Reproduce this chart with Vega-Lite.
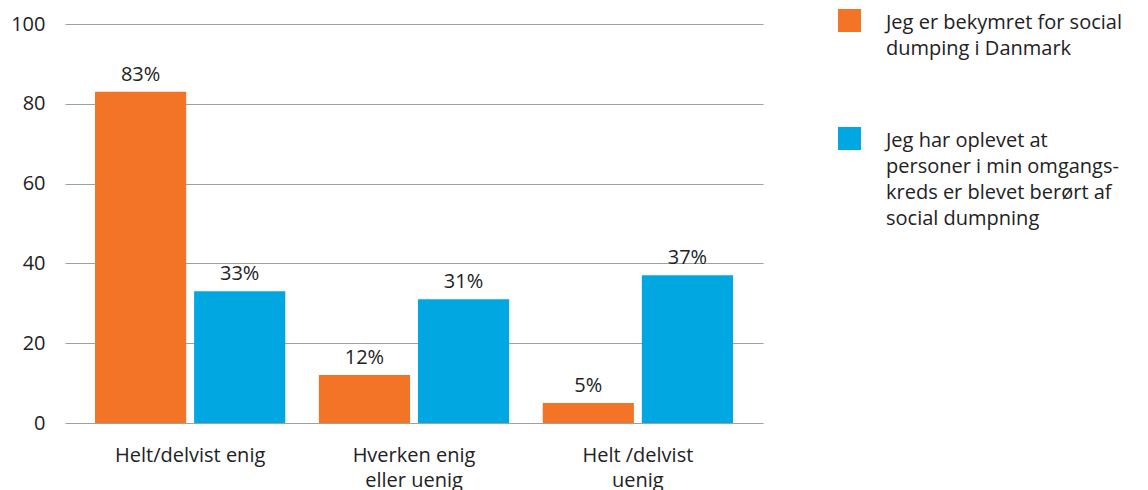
{
  "$schema": "https://vega.github.io/schema/vega-lite/v6.json",
  "width": 698,
  "height": 399,
  "autosize": {"type": "none"},
  "padding": {"left": 65, "top": 24, "right": 385, "bottom": 67},
  "background": "white",
  "config": {
    "font": "Open Sans",
    "view": {"stroke": null},
    "axis": {"labelFont": "Open Sans", "labelColor": "#222222", "labelFontSize": 20}
  },
  "data": {
    "values": [
      {"kategori": "Helt/delvist enig", "serie": "Jeg er bekymret for social|dumping i Danmark", "value": 83, "label": "83%"},
      {"kategori": "Helt/delvist enig", "serie": "Jeg har oplevet at|personer i min omgangs-|kreds er blevet berørt af|social dumpning", "value": 33, "label": "33%"},
      {"kategori": "Hverken enig|eller uenig", "serie": "Jeg er bekymret for social|dumping i Danmark", "value": 12, "label": "12%"},
      {"kategori": "Hverken enig|eller uenig", "serie": "Jeg har oplevet at|personer i min omgangs-|kreds er blevet berørt af|social dumpning", "value": 31, "label": "31%"},
      {"kategori": "Helt /delvist|uenig", "serie": "Jeg er bekymret for social|dumping i Danmark", "value": 5, "label": "5%"},
      {"kategori": "Helt /delvist|uenig", "serie": "Jeg har oplevet at|personer i min omgangs-|kreds er blevet berørt af|social dumpning", "value": 37, "label": "37%"}
    ]
  },
  "encoding": {
    "x": {
      "field": "kategori", "type": "nominal", "sort": null,
      "scale": {"paddingInner": 0.15, "paddingOuter": 0.134},
      "axis": {"title": null, "domain": false, "ticks": false, "labelAngle": 0, "labelPadding": 22, "labelBaseline": "top", "labelLineHeight": 25, "labelExpr": "split(datum.label, '|')"}
    },
    "xOffset": {
      "field": "serie", "type": "nominal", "sort": null,
      "scale": {"paddingInner": 0.08, "paddingOuter": 0}
    },
    "y": {
      "field": "value", "type": "quantitative",
      "scale": {"domain": [0, 100]},
      "axis": {"title": null, "domain": false, "ticks": false, "values": [0, 20, 40, 60, 80, 100], "labelPadding": 20, "gridColor": "#a0a0a0", "gridWidth": 1}
    }
  },
  "layer": [
    {
      "mark": {"type": "bar"},
      "encoding": {
        "color": {
          "field": "serie", "type": "nominal", "sort": null,
          "scale": {"range": ["#F37427", "#00A7E0"]},
          "legend": {
            "title": null, "orient": "none", "legendX": 773, "legendY": -15,
            "symbolType": "square", "symbolSize": 529, "symbolStrokeWidth": 0,
            "labelFont": "Open Sans",
            "labelFontSize": 20, "labelColor": "#222222", "labelLimit": 400, "labelOffset": 25,
            "rowPadding": 68, "labelBaseline": "top",
            "labelExpr": "split(datum.label, '|')",
            "encode": {"labels": {"update": {"lineHeight": {"value": 26}, "dy": {"value": -8}}}}
          }
        }
      }
    },
    {
      "mark": {"type": "text", "baseline": "bottom", "dy": -7, "fontSize": 20, "color": "#222222"},
      "encoding": {"text": {"field": "label"}}
    }
  ]
}
